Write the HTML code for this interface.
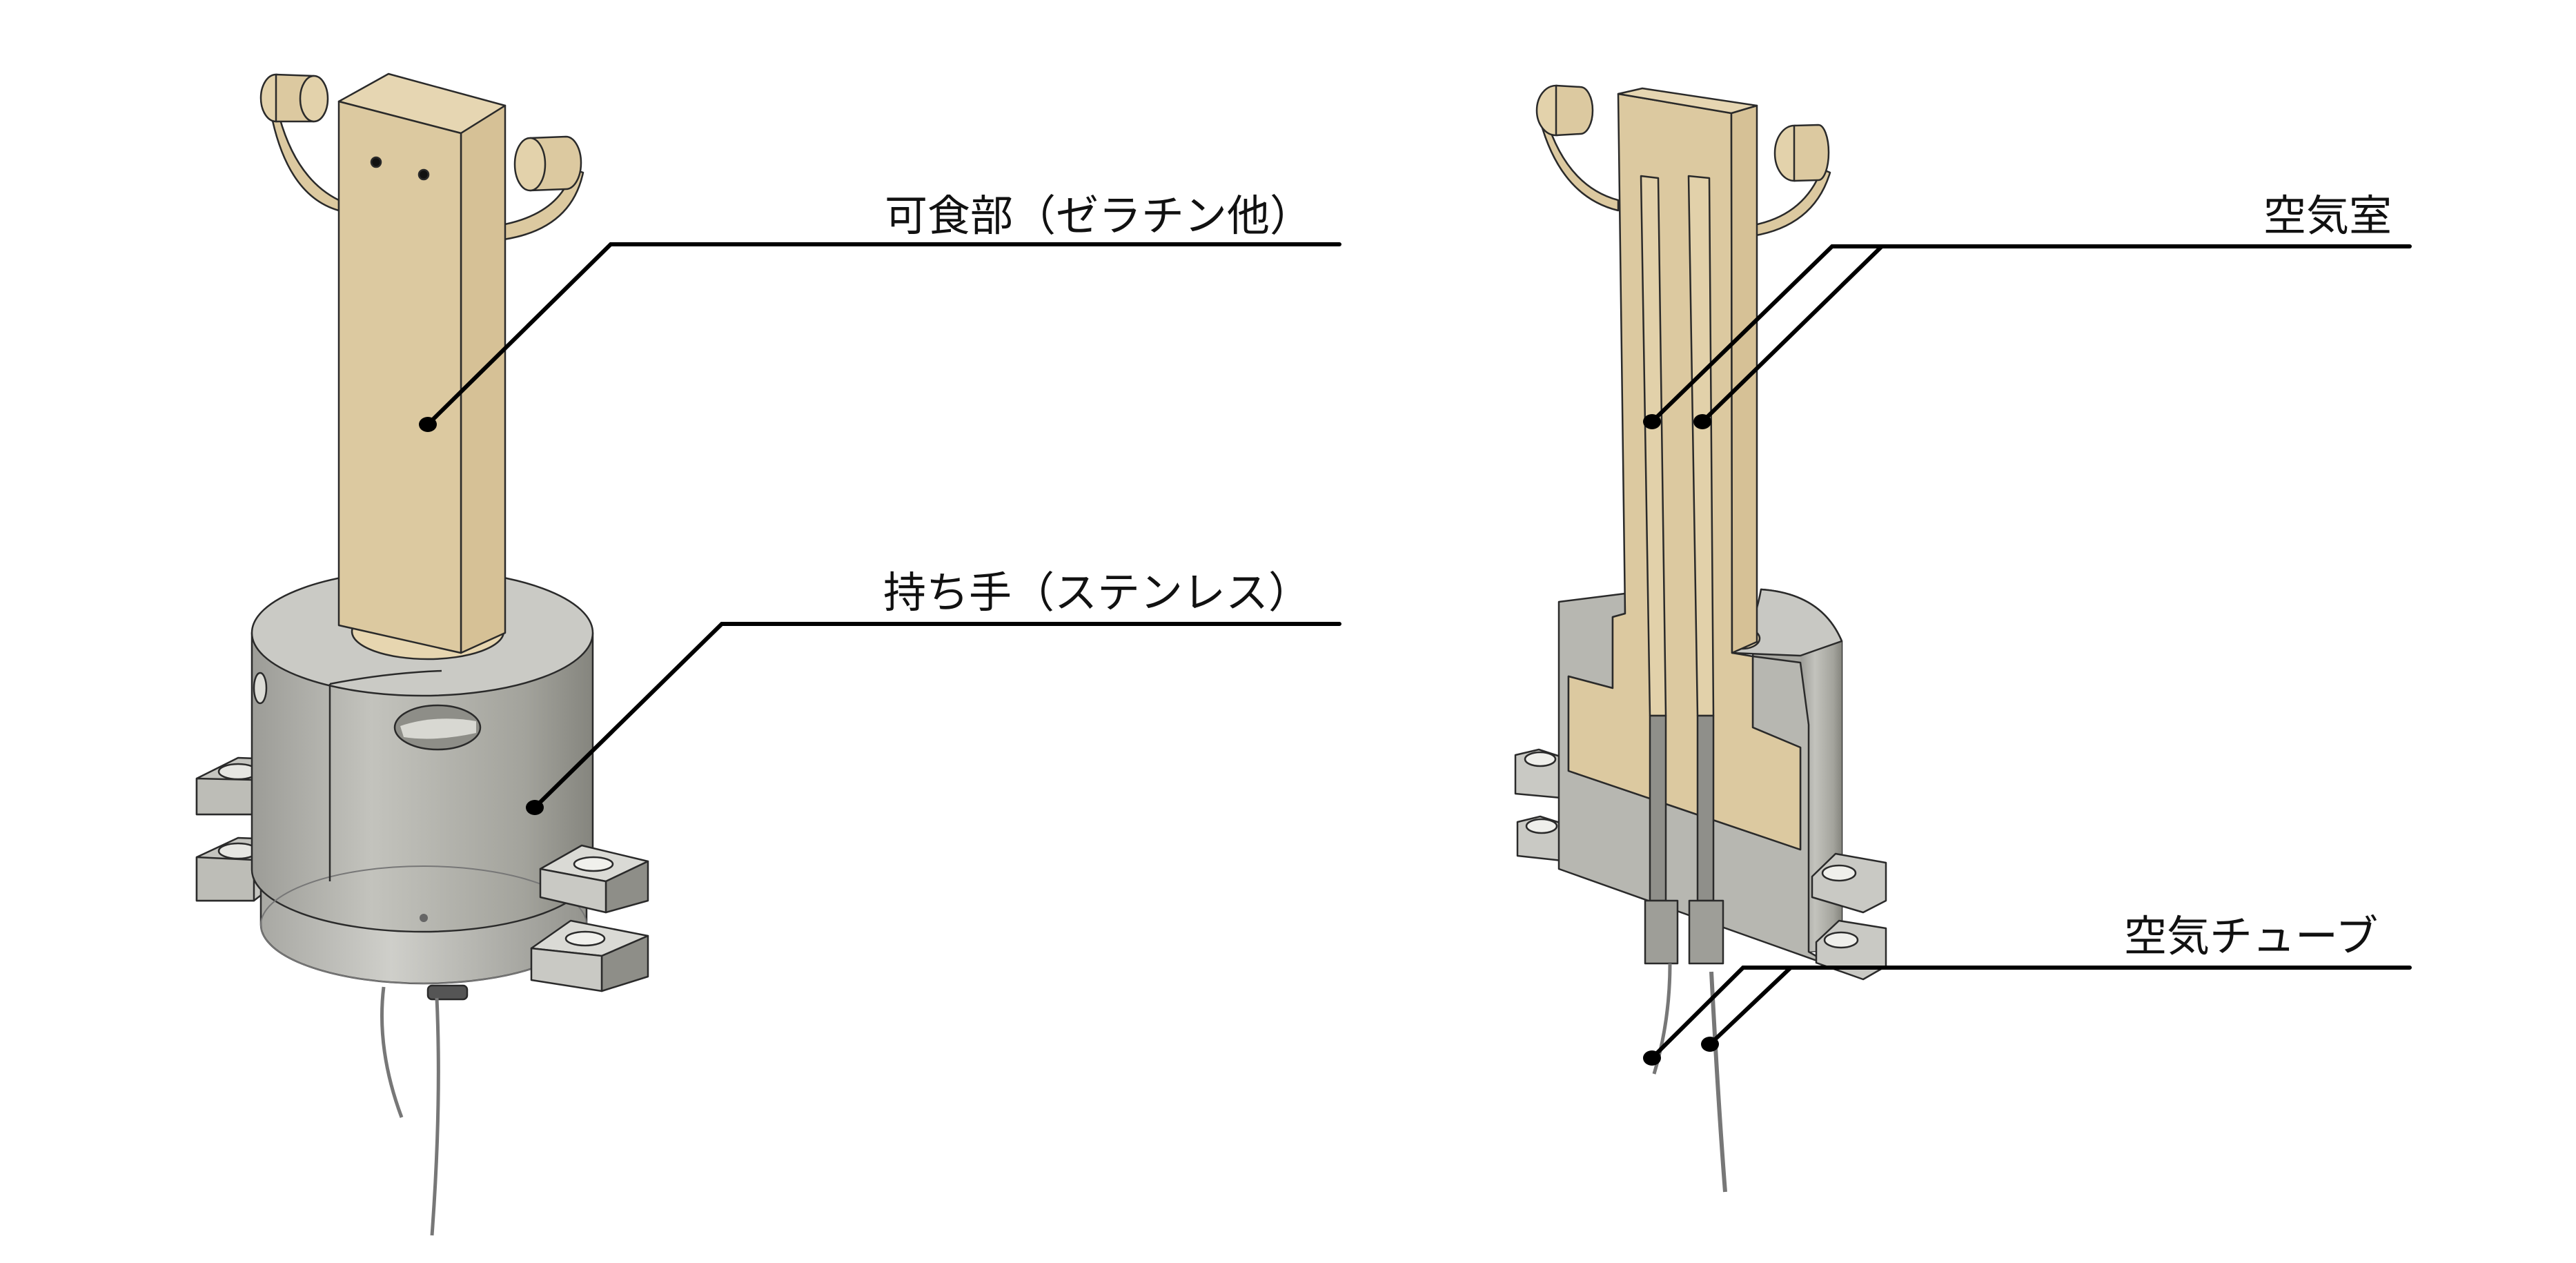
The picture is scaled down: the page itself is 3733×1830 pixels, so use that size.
<!DOCTYPE html>
<html><head><meta charset="utf-8"><style>
html,body{margin:0;padding:0;background:#fff;}
svg{display:block}
text{font-family:"Liberation Sans","Noto Sans CJK JP",sans-serif;font-size:62px;fill:#111}
</style></head><body>
<svg width="3733" height="1830" viewBox="0 0 3733 1830" xmlns="http://www.w3.org/2000/svg">
<defs>
<linearGradient id="cyl" x1="0" x2="1" y1="0" y2="0">
<stop offset="0" stop-color="#9c9c97"/><stop offset="0.35" stop-color="#c3c3bd"/><stop offset="0.8" stop-color="#a3a39c"/><stop offset="1" stop-color="#85857e"/>
</linearGradient>
<linearGradient id="cyl2" x1="0" x2="1" y1="0" y2="0">
<stop offset="0" stop-color="#a8a8a3"/><stop offset="0.4" stop-color="#cfcfca"/><stop offset="1" stop-color="#94948e"/>
</linearGradient>
</defs>
<g stroke="#2a2a2a" stroke-width="2.5" stroke-linejoin="round">
<path d="M405,170 Q430,260 491,290 L491,305 Q420,285 395,175 Z" fill="#dcc9a0"/>
<ellipse cx="400" cy="142" rx="22" ry="34" fill="#e3d2ab"/>
<path d="M400,108 L455,110 A22,34 0 0 1 455,176 L400,176 Z" fill="#dcc9a0"/>
<ellipse cx="455" cy="143" rx="20" ry="33" fill="#e3d2ab"/>
<path d="M830,245 Q810,320 697,330 L697,350 Q825,345 845,250 Z" fill="#dcc9a0"/>
<path d="M768,200 L820,198 A22,38 0 0 1 820,274 L768,276 Z" fill="#dcc9a0"/>
<ellipse cx="768" cy="238" rx="22" ry="38" fill="#e3d2ab"/>
<path d="M285,1128 L345,1098 L400,1100 L400,1160 L368,1180 L285,1180 Z" fill="#c4c4bf"/>
<path d="M285,1128 L368,1130 L368,1180 L285,1180 Z" fill="#bdbdb7"/>
<ellipse cx="345" cy="1118" rx="28" ry="11" fill="#e6e6e2"/>
<path d="M285,1242 L345,1214 L400,1216 L400,1280 L368,1305 L285,1305 Z" fill="#c4c4bf"/>
<path d="M285,1242 L368,1246 L368,1305 L285,1305 Z" fill="#bdbdb7"/>
<ellipse cx="345" cy="1233" rx="28" ry="11" fill="#e6e6e2"/>
<path d="M378,1250 L378,1340 A236,85 0 0 0 850,1340 L850,1250 Z" fill="url(#cyl2)"/>
<path d="M365,917 L365,1260 A247,90 0 0 0 859,1260 L859,917 Z" fill="url(#cyl)"/>
<ellipse cx="614" cy="1340" rx="236" ry="85" fill="none" stroke="#777" stroke-width="2"/>
<ellipse cx="612" cy="917" rx="247" ry="91" fill="#cacac5"/>
<ellipse cx="620" cy="915" rx="110" ry="40" fill="#e7d6b0"/>
<line x1="478" y1="991" x2="478" y2="1277"/>
<path d="M478,991 Q560,975 640,972" fill="none"/>
<ellipse cx="634" cy="1054" rx="62" ry="32" fill="#8e8e88"/>
<path d="M580,1052 Q630,1035 690,1045 L690,1062 Q630,1075 585,1068 Z" fill="#d8d8d2" stroke="none"/>
<ellipse cx="377" cy="997" rx="9" ry="22" fill="#dcdcd6"/>
<circle cx="614" cy="1330" r="6" fill="#666" stroke="none"/>
<path d="M783,1259 L843,1225 L939,1248 L878,1277 Z" fill="#dadad5"/>
<path d="M878,1277 L939,1248 L939,1305 L878,1322 Z" fill="#8e8e88"/>
<path d="M783,1259 L878,1277 L878,1322 L783,1300 Z" fill="#c9c9c4"/>
<ellipse cx="860" cy="1252" rx="28" ry="10" fill="#f0f0ec"/>
<path d="M770,1374 L827,1334 L939,1356 L872,1385 Z" fill="#dadad5"/>
<path d="M872,1385 L939,1356 L939,1415 L872,1436 Z" fill="#8e8e88"/>
<path d="M770,1374 L872,1385 L872,1436 L770,1420 Z" fill="#c9c9c4"/>
<ellipse cx="848" cy="1360" rx="28" ry="10" fill="#f0f0ec"/>
<path d="M491,147 L563,107 L732,153 L668,193 Z" fill="#e6d6b2"/>
<path d="M668,193 L732,153 L732,917 L668,946 Z" fill="#d6c196"/>
<path d="M491,147 L668,193 L668,946 L491,906 Z" fill="#dcc9a0"/>
<circle cx="545" cy="235" r="7" fill="#111"/>
<circle cx="614" cy="253" r="7" fill="#111"/>
<rect x="620" y="1428" width="57" height="20" rx="6" fill="#555"/>
<path d="M556,1430 Q545,1520 582,1619" fill="none" stroke="#777" stroke-width="5"/>
<path d="M633,1446 Q640,1600 626,1790" fill="none" stroke="#777" stroke-width="5"/>

<path d="M2240,170 Q2270,270 2345,290 L2345,305 Q2262,285 2232,175 Z" fill="#dcc9a0"/>
<ellipse cx="2255" cy="160" rx="28" ry="36" fill="#e3d2ab"/>
<path d="M2255,124 L2290,126 A18,34 0 0 1 2290,194 L2255,196 Z" fill="#dcc9a0"/>
<path d="M2640,245 Q2610,325 2509,330 L2509,345 Q2625,340 2652,250 Z" fill="#dcc9a0"/>
<ellipse cx="2600" cy="222" rx="28" ry="40" fill="#e3d2ab"/>
<path d="M2600,182 L2635,181 A15,40 0 0 1 2635,261 L2600,262 Z" fill="#dcc9a0"/>
<path d="M2196,1094 L2230,1086 L2273,1100 L2273,1157 L2196,1150 Z" fill="#c9c9c4"/>
<ellipse cx="2232" cy="1100" rx="22" ry="10" fill="#efefeb"/>
<path d="M2199,1191 L2232,1183 L2273,1196 L2273,1248 L2199,1240 Z" fill="#c9c9c4"/>
<ellipse cx="2234" cy="1197" rx="22" ry="10" fill="#efefeb"/>
<path d="M2552,854 Q2640,860 2669,929 L2669,1374 L2621,1379 L2621,1050 L2609,1040 L2609,1083 L2540,1054 L2540,951 Z" fill="#a6a6a0"/>
<path d="M2609,940 L2669,929 L2669,1374 L2621,1379 Z" fill="url(#cyl)" stroke="none"/>
<path d="M2510,946 Q2540,920 2552,854 Q2640,860 2669,929 L2609,950 Z" fill="#c8c8c3"/>
<ellipse cx="2525" cy="925" rx="25" ry="15" fill="#e7d6b0"/>
<path d="M2259,872 L2355,860 L2355,889 L2337,894 L2337,997 L2273,980 L2273,1117 L2609,1231 L2609,1083 L2540,1054 L2540,951 L2609,960 L2621,1050 L2621,1379 L2661,1402 L2259,1259 Z" fill="#b7b7b1"/>
<path d="M2345,136 L2509,164 L2510,946 L2540,951 L2540,1054 L2609,1083 L2609,1231 L2273,1117 L2273,980 L2337,997 L2337,894 L2355,889 Z" fill="#dcc9a0"/>
<path d="M2509,164 L2546,153 L2546,930 L2510,946 Z" fill="#d6c196"/>
<path d="M2345,136 L2380,128 L2546,153 L2509,164 Z" fill="#e6d6b2"/>
<path d="M2378,255 L2403,258 L2414,1037 L2391,1037 Z" fill="#e2d1aa"/>
<path d="M2447,255 L2477,258 L2483,1037 L2460,1037 Z" fill="#e2d1aa"/>
<rect x="2391" y="1037" width="23" height="268" fill="#8f8f8a"/>
<rect x="2460" y="1037" width="23" height="268" fill="#8f8f8a"/>
<rect x="2384" y="1305" width="47" height="91" fill="#9e9e98"/>
<rect x="2448" y="1305" width="49" height="91" fill="#9e9e98"/>
<path d="M2626,1270 L2660,1237 L2733,1250 L2733,1305 L2700,1322 L2626,1300 Z" fill="#c9c9c4"/>
<ellipse cx="2665" cy="1265" rx="24" ry="11" fill="#efefeb"/>
<path d="M2632,1365 L2665,1334 L2733,1345 L2733,1400 L2700,1419 L2632,1395 Z" fill="#c9c9c4"/>
<ellipse cx="2668" cy="1362" rx="24" ry="11" fill="#efefeb"/>
<path d="M2420,1396 Q2420,1480 2397,1556" fill="none" stroke="#777" stroke-width="5"/>
<path d="M2480,1408 Q2490,1600 2500,1727" fill="none" stroke="#777" stroke-width="6"/>
</g>

<g stroke="#000" stroke-width="6" fill="none" stroke-linecap="round">
<path d="M1941,354 L885,354 L620,615"/>
<path d="M1941,904 L1046,904 L775,1170"/>
<path d="M3492,357 L2655,357 L2394,611"/>
<path d="M2727,357 L2467,611"/>
<path d="M3492,1402 L2526,1402 L2394,1533"/>
<path d="M2595,1402 L2478,1513"/>
</g>
<g fill="#000">
<ellipse cx="620" cy="615" rx="13" ry="11"/>
<ellipse cx="775" cy="1170" rx="13" ry="11"/>
<ellipse cx="2394" cy="611" rx="13" ry="11"/>
<ellipse cx="2467" cy="611" rx="13" ry="11"/>
<ellipse cx="2394" cy="1533" rx="13" ry="11"/>
<ellipse cx="2478" cy="1513" rx="13" ry="11"/>
</g>
<text x="1282" y="334">可食部（ゼラチン他）</text>
<text x="1280" y="880">持ち手（ステンレス）</text>
<text x="3280" y="334">空気室</text>
<text x="3078" y="1378">空気チューブ</text>
</svg>
</body></html>
